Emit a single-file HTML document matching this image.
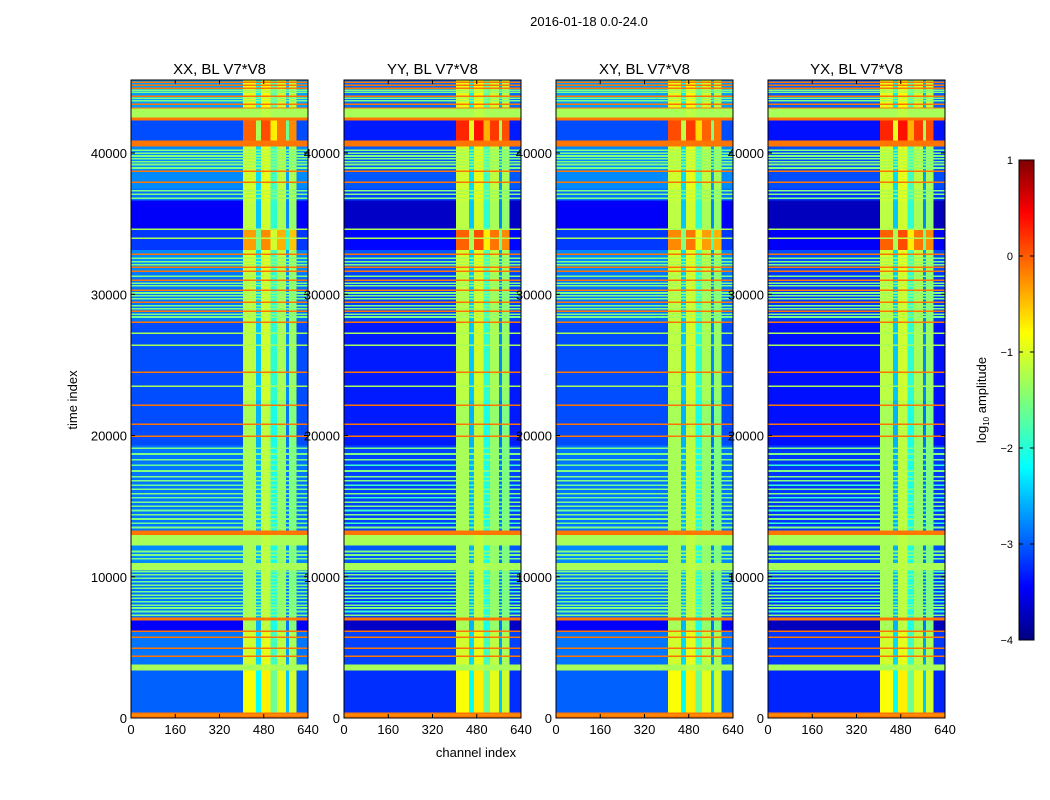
<!DOCTYPE html>
<html><head><meta charset="utf-8">
<style>
body{margin:0;background:#fff;}
svg{display:block;font-family:"Liberation Sans",sans-serif;}
</style></head>
<body>
<svg id="chart" width="1050" height="800" viewBox="0 0 1050 800">
<defs>
<linearGradient id="jet" x1="0" y1="1" x2="0" y2="0">
<stop offset="0" stop-color="#00007f"/><stop offset="0.11" stop-color="#0000ff"/><stop offset="0.36" stop-color="#00ffff"/><stop offset="0.5" stop-color="#7dff7a"/><stop offset="0.64" stop-color="#ffff00"/><stop offset="0.89" stop-color="#ff0000"/><stop offset="1" stop-color="#7f0000"/>
</linearGradient>
</defs>
<text x="589" y="26" font-size="13" text-anchor="middle">2016-01-18 0.0-24.0</text>
<text x="476" y="757" font-size="13" text-anchor="middle">channel index</text>
<text x="0" y="0" font-size="13" text-anchor="middle" transform="translate(77,400) rotate(-90)">time index</text>
<g id="panels"></g>
<g>
<rect x="1019" y="160" width="15" height="480" fill="url(#jet)" stroke="#000" stroke-width="1"/>
<g id="cbticks"></g>
<text x="0" y="0" font-size="13" text-anchor="middle" transform="translate(986,400) rotate(-90)">log<tspan font-size="8" dy="3">10</tspan><tspan dy="-3"> amplitude</tspan></text>
</g>
</svg>
<script>
// ---- data ----
const panelTitles = ["XX, BL V7*V8","YY, BL V7*V8","XY, BL V7*V8","YX, BL V7*V8"];
const panelBgAdj = [0, -0.25, 0, -0.3];
const panelColAdj = [0, 0.3, 0.1, 0.3];
const xTicks = [0,160,320,480,640];
const yTicks = [0,10000,20000,30000,40000];
const cbTicks = [1,0,-1,-2,-3,-4];
// row bands: start time, end time, level, column boost
const bandStart = [0,425,3400,3820,6230,6940,7150,10480,10980,12250,12960,13310,19330,22510,27970,28110,31580,33140,34620,36670,37520,38800,40500,40920,42340,42550,43190,43260];
const bandEnd   = [425,3400,3820,6230,6940,7150,10480,10980,12250,12960,13310,19330,22510,27970,28110,31580,33140,34620,36670,37520,38800,40500,40920,42340,42550,43190,43260,45200];
const bandLevel = [-0.3,-2.9,-1.3,-2.8,-3.4,-0.2,-2.8,-1.3,-2.7,-1.3,-0.2,-2.8,-3.0,-3.0,-0.2,-2.8,-2.7,-3.1,-3.4,-2.8,-2.7,-2.7,-0.2,-3.0,-0.2,-1.3,-0.2,-2.6];
const bandBoost = [0,0.4,0,0.2,0,0,0,0,0,0,0,0,0,0.1,0,0.1,0.2,0.9,0.1,0.2,0.2,0.2,0,1.2,0,0,0,0.3];
// thin lines: time, level
const lineTime = [100,350,4390,4960,5730,6160,7300,7550,7800,8000,8250,8500,8700,8950,9200,9400,9650,9900,10150,10350,11300,11550,11800,13500,13800,14100,14400,14700,15000,15300,15600,15900,16200,16500,16800,17100,17500,17900,18300,18700,19100,19970,20820,22160,23500,24500,26410,27260,28400,28600,28820,29000,29200,29450,29700,29900,30100,30300,30600,30800,31010,31300,31650,31930,32100,32300,32550,32850,33980,34620,36800,37100,37350,37950,38720,38950,39200,39400,39600,39800,40000,40200,42440,43470,43700,43900,44040,44300,44450,44600,44820,45030];
const lineLevel = [-0.2,-0.2,-0.2,-0.2,-0.2,-0.2,-1.5,-1.6,-1.5,-1.5,-1.6,-1.5,-1.5,-1.6,-1.5,-1.5,-1.6,-1.5,-1.5,-1.6,-1.5,-1.5,-1.5,-1.5,-1.6,-1.5,-1.5,-1.6,-1.5,-1.5,-1.6,-1.5,-1.5,-1.6,-1.5,-1.5,-1.5,-1.6,-1.5,-1.5,-1.5,-0.2,-0.2,-0.2,-1.3,-0.2,-1.3,-1.3,-1.5,-1.5,-0.2,-1.5,-1.5,-0.2,-1.5,-1.5,-1.5,-0.2,-1.5,-1.5,-0.2,-1.5,-0.2,-0.2,-1.5,-1.5,-1.5,-0.2,-1.3,-1.3,-1.5,-1.5,-1.5,-0.2,-0.2,-1.5,-1.5,-1.5,-1.5,-1.5,-1.5,-1.5,-0.2,-0.2,-1.5,-1.5,-0.2,-1.5,-1.5,-0.2,-0.2,-0.2];
// channel columns
const colStart = [0,405,452,470,505,528,560,572,598];
const colEnd   = [405,452,470,505,528,560,572,598,640];
const colLevel = [-9,-1.3,-2.5,-1.2,-2.0,-1.4,-2.8,-1.5,-9];

// ---- drawing ----
const NS="http://www.w3.org/2000/svg";
const panelX=[131,344,556,768], PW=177, PT=80, PB=718, TMAX=45170, CMAX=640;
const xs=(c,p)=>panelX[p]+c/CMAX*PW;
const ys=t=>PB-t/TMAX*(PB-PT);
function jet(v){
  let n=(v+4)/5; n=Math.max(0,Math.min(1,n));
  const f=x=>Math.round(255*Math.max(0,Math.min(1,1.5-Math.abs(x))));
  return `rgb(${f(4*n-3)},${f(4*n-2)},${f(4*n-1)})`;
}
function mk(tag,attrs,parent){const e=document.createElementNS(NS,tag);for(const k in attrs)e.setAttribute(k,attrs[k]);parent.appendChild(e);return e;}
const root=document.getElementById('panels');
function drawRow(g,p,t0,t1,lvl,boost){
  const y0=ys(t1), y1=ys(t0);
  for(let c=0;c<colStart.length;c++){
    let base=lvl<-1.5?lvl+panelBgAdj[p]:lvl;
    let v=Math.max(base,colLevel[c]+boost+(boost>0.5?panelColAdj[p]:0));
    const r=mk('rect',{x:xs(colStart[c],p),y:y0,width:xs(colEnd[c],p)-xs(colStart[c],p)+0.4,height:Math.max(1,y1-y0+0.3),fill:jet(v),'shape-rendering':'crispEdges'},g);
    
    
  }
}
for(let p=0;p<4;p++){
  const g=mk('g',{},root);
  
  
  for(let i=0;i<bandStart.length;i++) drawRow(g,p,bandStart[i],bandEnd[i],bandLevel[i],bandBoost[i]);
  for(let i=0;i<lineTime.length;i++) drawRow(g,p,lineTime[i]-45,lineTime[i]+45,lineLevel[i],0);
  const fr=mk('rect',{x:panelX[p],y:PT,width:PW,height:PB-PT,fill:'none',stroke:'#000','stroke-width':1},g);
  
  
  const tt=mk('text',{x:panelX[p]+PW/2,y:74,'font-size':15,'text-anchor':'middle'},g);
  tt.textContent=panelTitles[p];
  
  
  for(const v of xTicks){
    const x=xs(v,p);
    mk('line',{x1:x,x2:x,y1:PB,y2:PB-4,stroke:'#000'},g);
    mk('line',{x1:x,x2:x,y1:PT,y2:PT+4,stroke:'#000'},g);
    const t=mk('text',{x:x,y:PB+16,'font-size':13,'text-anchor':'middle'},g);
    t.textContent=v;
    
    
  }
  for(const v of yTicks){
    const y=ys(v);
    mk('line',{x1:panelX[p],x2:panelX[p]+4,y1:y,y2:y,stroke:'#000'},g);
    mk('line',{x1:panelX[p]+PW,x2:panelX[p]+PW-4,y1:y,y2:y,stroke:'#000'},g);
    const t=mk('text',{x:panelX[p]-4,y:y+5,'font-size':13,'text-anchor':'end'},g);
    t.textContent=v;
    
    
  }
}
const cb=document.getElementById('cbticks');
for(const v of cbTicks){
  const y=640-(v+4)/5*480;
  mk('line',{x1:1019,x2:1023,y1:y,y2:y,stroke:'#000'},cb);
  mk('line',{x1:1034,x2:1030,y1:y,y2:y,stroke:'#000'},cb);
  const t=mk('text',{x:1013,y:y+4,'font-size':11,'text-anchor':'end'},cb);
  t.textContent=v<0?'\u2212'+(-v):v;
  
  
}
</script>
</body></html>
